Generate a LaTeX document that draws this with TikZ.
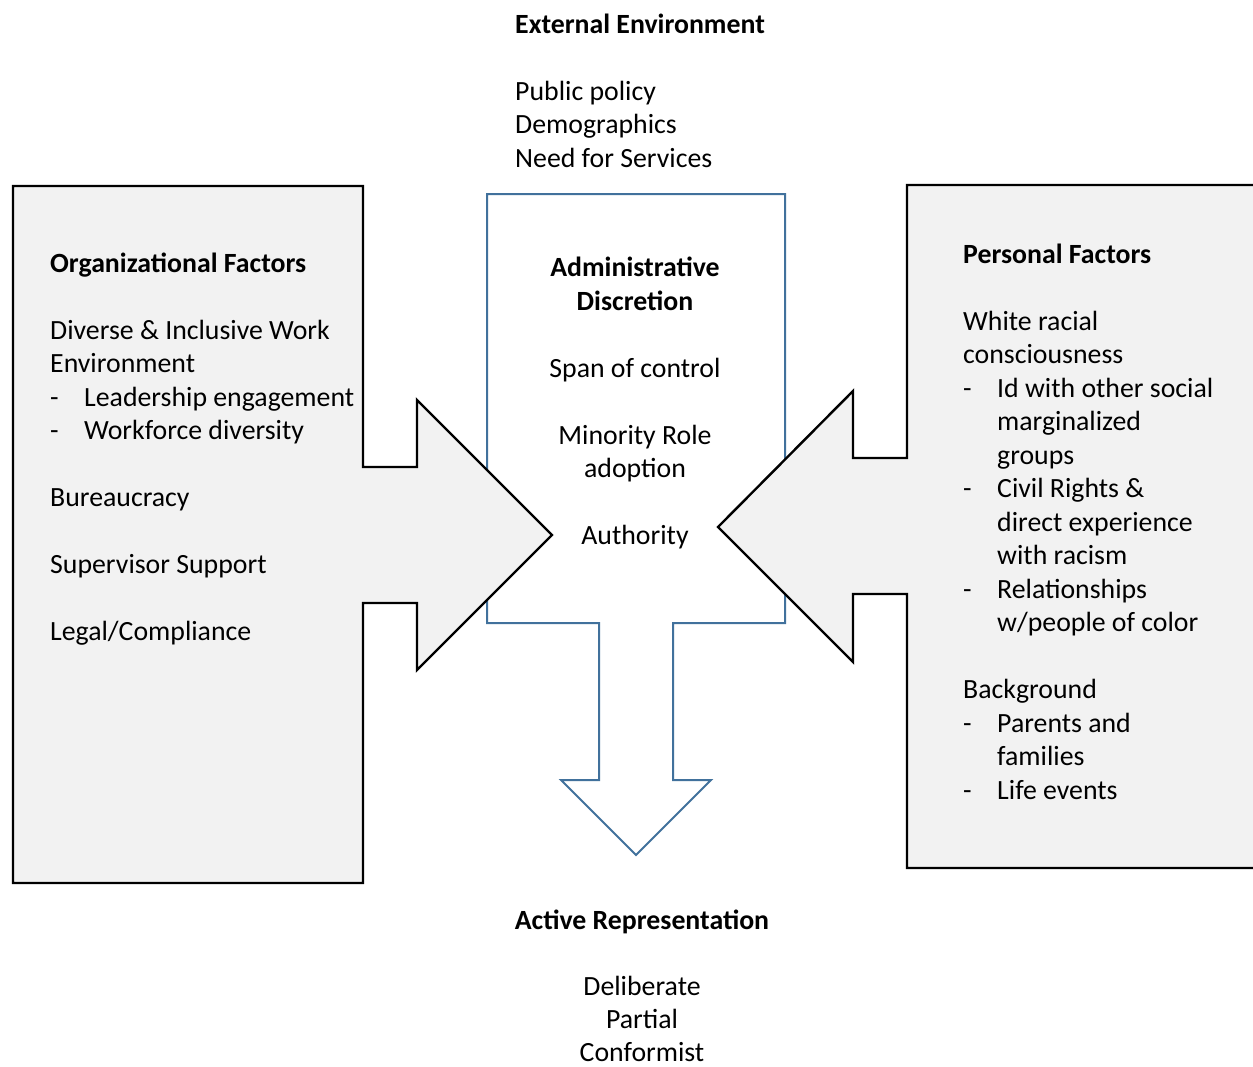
\documentclass[tikz,border=0pt]{standalone}
\usepackage{fontspec}
\setmainfont{Carlito}
\definecolor{boxgray}{RGB}{242,242,242}
\definecolor{shapeblue}{RGB}{65,113,156}
\begin{document}
\begin{tikzpicture}[x=1pt,y=-1pt,
  txt/.style={inner sep=0pt, font=\fontsize{27.8}{33.5}\selectfont},
  txtb/.style={inner sep=0pt, font=\fontsize{27.8}{33.5}\selectfont\bfseries},
  lt/.style={txt, anchor=base west},
  ltb/.style={txtb, anchor=base west},
  ct/.style={txt, anchor=base},
  ctb/.style={txtb, anchor=base},
  greyshape/.style={draw=black, fill=boxgray, line width=2.4pt, line join=miter},
  blueshape/.style={draw=shapeblue, fill=white, line width=2pt, line join=miter}]
\clip (0,0) rectangle (1253,1066);
\fill[white] (0,0) rectangle (1253,1066);

% central box with down arrow
\draw[blueshape] (487,194) -- (785,194) -- (785,623) -- (673,623) -- (673,780)
  -- (711,780) -- (636,855) -- (561,780) -- (599,780) -- (599,623) -- (487,623) -- cycle;

% left box with right-pointing arrow
\draw[greyshape] (13,186) -- (363,186) -- (363,467) -- (417,467) -- (417,400)
  -- (552,535) -- (417,670) -- (417,603) -- (363,603) -- (363,883) -- (13,883) -- cycle;

% right box with left-pointing arrow
\draw[greyshape] (907,185) -- (1262,185) -- (1262,868) -- (907,868) -- (907,594)
  -- (853,594) -- (853,662) -- (718,527) -- (853,391) -- (853,458) -- (907,458) -- cycle;

% External environment
\node[ltb] (ext0) at (515,33) {External Environment};
\node[lt] (ext1) at (515,100) {Public policy};
\node[lt] (ext2) at (515,133.5) {Demographics};
\node[lt] (ext3) at (515,167) {Need for Services};

% Organizational factors
\node[ltb] (org0) at (50,272) {Organizational Factors};
\node[lt] (org1) at (50,339) {Diverse \& Inclusive Work};
\node[lt] (org2) at (50,372.5) {Environment};
\node[lt] (org3d) at (50,406) {-};
\node[lt] (org3) at (84,406) {Leadership engagement};
\node[lt] (org4d) at (50,439.5) {-};
\node[lt] (org4) at (84,439.5) {Workforce diversity};
\node[lt] (org5) at (50,506.5) {Bureaucracy};
\node[lt] (org6) at (50,573.5) {Supervisor Support};
\node[lt] (org7) at (50,640.5) {Legal/Compliance};

% Administrative discretion
\node[ctb] (adm0) at (635,276.5) {Administrative};
\node[ctb] (adm1) at (635,310) {Discretion};
\node[ct] (adm2) at (635,377) {Span of control};
\node[ct] (adm3) at (635,444) {Minority Role};
\node[ct] (adm4) at (635,477.5) {adoption};
\node[ct] (adm5) at (635,544.5) {Authority};

% Personal factors
\node[ltb] (per0) at (963,263) {Personal Factors};
\node[lt] (per1) at (963,330) {White racial};
\node[lt] (per2) at (963,363.5) {consciousness};
\node[lt] (per3d) at (963,397) {-};
\node[lt] (per3) at (997,397) {Id with other social};
\node[lt] (per4) at (997,430.5) {marginalized};
\node[lt] (per5) at (997,464) {groups};
\node[lt] (per6d) at (963,497.5) {-};
\node[lt] (per6) at (997,497.5) {Civil Rights \&};
\node[lt] (per7) at (997,531) {direct experience};
\node[lt] (per8) at (997,564.5) {with racism};
\node[lt] (per9d) at (963,598) {-};
\node[lt] (per9) at (997,598) {Relationships};
\node[lt] (per10) at (997,631.5) {w/people of color};
\node[lt] (per11) at (963,698.5) {Background};
\node[lt] (per12d) at (963,732) {-};
\node[lt] (per12) at (997,732) {Parents and};
\node[lt] (per13) at (997,765.5) {families};
\node[lt] (per14d) at (963,799) {-};
\node[lt] (per14) at (997,799) {Life events};

% Active representation
\node[ctb] (act0) at (642,929) {Active Representation};
\node[ct] (act1) at (642,995.5) {Deliberate};
\node[ct] (act2) at (642,1028.5) {Partial};
\node[ct] (act3) at (642,1061) {Conformist};
\end{tikzpicture}
\end{document}
